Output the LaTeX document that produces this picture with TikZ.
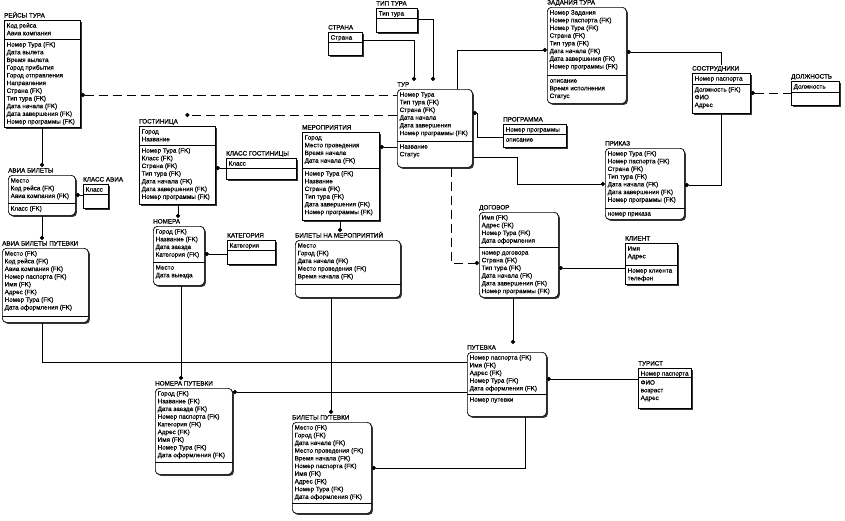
\documentclass[tikz,border=0pt]{standalone}
\usepackage{fontspec}
\setmainfont{Liberation Sans}
\newfontfamily\erfont{Liberation Sans}[FakeBold=0.4]
\usetikzlibrary{arrows.meta, calc, shadows}

% entity: [style]{name}{position}{width}{height}{key part}{title}{keys}{attributes}
\newcommand{\entity}[9][entbox]{%
  \node[#1, minimum width=#4pt, minimum height=#5pt] (#2) at (#3) {};
  \node[enttitle] (#2-title) at ($(#2.north west)+(0,-2.5)$) {#7};
  \draw[idrel] ($(#2.north west)+(0,#6)$) -- ($(#2.north east)+(0,#6)$);
  \node[entattr] at ($(#2.north west)+(2.5,2)$) {\strut #8};
  \node[entattr] at ($(#2.north west)+(2.5,#6+2)$) {\strut #9};
  \coordinate (#2-top) at ($(#2.north)+(0,-8)$);
}

\begin{document}
\begin{tikzpicture}[
    x=1pt, y=-1pt,
    >={Circle[length=4.2pt]},
    entbox/.style={rectangle, draw=black, line width=0.7pt, fill=white, anchor=north west, inner sep=0pt,
      drop shadow={shadow xshift=1.5pt, shadow yshift=-1.5pt, fill=black!80, opacity=1}},
    depbox/.style={entbox, rounded corners=4pt},
    enttitle/.style={anchor=base west, inner sep=0pt, font=\erfont\fontsize{6.3}{7.7}\selectfont},
    entattr/.style={anchor=north west, inner sep=0pt, align=left, font=\erfont\fontsize{6.3}{7.7}\selectfont},
    idrel/.style={line width=0.7pt},
    nonid/.style={line width=0.7pt, dash pattern=on 9pt off 5pt}
]
\path[fill=white, use as bounding box] (0,0) rectangle (845,520);

% --- Left column: flights ---
\entity{reisy}{4,20}{76}{107}{19}{РЕЙСЫ ТУРА}{Код рейса\\Авиа компания}{Номер Тура (FK)\\Дата вылета\\Время вылета\\Город прибытия\\Город отправления\\Направления\\Страна (FK)\\Тип тура (FK)\\Дата начала (FK)\\Дата завершения (FK)\\Номер программы (FK)}
\entity[depbox]{avia}{8,175}{67}{40}{28}{АВИА БИЛЕТЫ}{Место\\Код рейса (FK)\\Авиа компания (FK)}{Класс (FK)}
\entity{klavia}{83,184}{25}{24}{10}{КЛАСС АВИА}{Класс}{}
\entity[depbox]{avput}{2,248}{86}{74}{68}{АВИА БИЛЕТЫ ПУТЕВКИ}{Место (FK)\\Код рейса (FK)\\Авиа компания (FK)\\Номер паспорта (FK)\\Имя (FK)\\Адрес (FK)\\Номер Тура (FK)\\Дата оформления (FK)}{}

% --- Hotels ---
\entity{gost}{139,126}{76}{78}{19}{ГОСТИНИЦА}{Город\\Название}{Номер Тура (FK)\\Класс (FK)\\Страна (FK)\\Тип тура (FK)\\Дата начала (FK)\\Дата завершения (FK)\\Номер программы (FK)}
\entity{klgost}{226,158}{70}{21}{10}{КЛАСС ГОСТИНИЦЫ}{Класс}{}
\entity[depbox]{nomera}{153,226}{51}{59}{36}{НОМЕРА}{Город (FK)\\Название (FK)\\Дата заезда\\Категория (FK)}{Место\\Дата выезда}
\entity{kateg}{227,240}{48}{24}{10}{КАТЕГОРИЯ}{Категория}{}
\entity[depbox]{nomput}{155,388}{77}{86}{74}{НОМЕРА ПУТЕВКИ}{Город (FK)\\Название (FK)\\Дата заезда (FK)\\Номер паспорта (FK)\\Категория (FK)\\Адрес (FK)\\Имя (FK)\\Номер Тура (FK)\\Дата оформления (FK)}{}

% --- Tour ---
\entity{strana}{328,32}{34}{23}{10}{СТРАНА}{Страна}{}
\entity{tiptura}{376,8}{41}{24}{10}{ТИП ТУРА}{Тип тура}{}
\entity[depbox]{tur}{397,89}{75}{78}{52}{ТУР}{Номер Тура\\Тип тура (FK)\\Страна (FK)\\Дата начала\\Дата завершения\\Номер программы (FK)}{Название\\Статус}
\entity{merop}{302,132}{77}{88}{36}{МЕРОПРИЯТИЯ}{Город\\Место проведения\\Время начала\\Дата начала (FK)}{Номер Тура (FK)\\Название\\Страна (FK)\\Тип тура (FK)\\Дата завершения (FK)\\Номер программы (FK)}
\entity[depbox]{bilmer}{295,240}{105}{57}{44}{БИЛЕТЫ НА МЕРОПРИЯТИЙ}{Место\\Город (FK)\\Дата начала (FK)\\Место проведения (FK)\\Время начала (FK)}{}
\entity[depbox]{bilput}{292,422}{79}{91}{81}{БИЛЕТЫ ПУТЕВКИ}{Место (FK)\\Город (FK)\\Дата начала (FK)\\Место проведения (FK)\\Время начала (FK)\\Номер паспорта (FK)\\Имя (FK)\\Адрес (FK)\\Номер Тура (FK)\\Дата оформления (FK)}{}
\entity{prog}{503,124}{63}{23}{10}{ПРОГРАММА}{Номер программы}{описание}

% --- Staff ---
\entity[depbox]{zad}{547,7}{79}{96}{68}{ЗАДАНИЯ ТУРА}{Номер Задания\\Номер паспорта (FK)\\Номер Тура (FK)\\Страна (FK)\\Тип тура (FK)\\Дата начала (FK)\\Дата завершения (FK)\\Номер программы (FK)}{описание\\Время исполнения\\Статус}
\entity{sotr}{692,73}{58}{40}{11}{СОСТРУДНИКИ}{Номер паспорта}{Должность (FK)\\ФИО\\Адрес}
\entity{dolzh}{791,81}{48}{24}{11}{ДОЛЖНОСТЬ}{Должность}{}
\entity[depbox]{prikaz}{605,148}{79}{71}{60}{ПРИКАЗ}{Номер Тура (FK)\\Номер паспорта (FK)\\Страна (FK)\\Тип тура (FK)\\Дата начала (FK)\\Дата завершения (FK)\\Номер программы (FK)}{номер приказа}

% --- Clients ---
\entity[depbox]{dogovor}{479,212}{79}{85}{35}{ДОГОВОР}{Имя (FK)\\Адрес (FK)\\Номер Тура (FK)\\Дата оформления}{номер договора\\Страна (FK)\\Тип тура (FK)\\Дата начала (FK)\\Дата завершения (FK)\\Номер программы (FK)}
\entity{klient}{625,243}{52}{41}{22}{КЛИЕНТ}{Имя\\Адрес}{Номер клиента\\телефон}
\entity[depbox]{putevka}{467,352}{79}{64}{42}{ПУТЕВКА}{Номер паспорта (FK)\\Имя (FK)\\Адрес (FK)\\Номер Тура (FK)\\Дата оформления (FK)}{Номер путевки}
\entity{turist}{638,368}{53}{40}{9}{ТУРИСТ}{Номер паспорта}{ФИО\\возраст\\Адрес}

% --- Relations ---
% flights
\draw[idrel, ->] (42,0 |- reisy.south) -- (42,0 |- avia-top);
\draw[idrel, <-] (avia.east |- 0,195) -- (klavia.west |- 0,195);
\draw[idrel, ->] (42,0 |- avia.south) -- (42,0 |- avput-top);
\draw[idrel] (42,0 |- avput.south) |- (putevka.west |- 0,362);

% tour
\draw[nonid, <-] (reisy.east |- 0,95) -- (tur.west |- 0,95);
\draw[nonid, ->] (tur.west |- 0,115) -- ($(gost.north)+(8,-11)$);
\draw[idrel, <-] (merop.east |- 0,147) -- (tur.west |- 0,147);
\draw[idrel, ->] (strana.east |- 0,40) -| (414,0 |- tur-top);
\draw[idrel, ->] (tiptura.east |- 0,19) -| (433,0 |- tur-top);
\draw[idrel, <-] (tur.east |- 0,113) -| (477,137) -- (prog.west |- 0,137);
\draw[idrel, ->] (457,0 |- tur.north) |- (zad.west |- 0,50);
\draw[idrel, ->] (tur.east |- 0,157) -| (517,184) -- (prikaz.west |- 0,184);
\draw[nonid, ->] (451,0 |- tur.south) |- (dogovor.west |- 0,263);

% staff
\draw[idrel, <-] (zad.east |- 0,52) -| (sotr-top);
\draw[nonid, <-] (sotr.east |- 0,93) -- (dolzh.west |- 0,93);
\draw[idrel, ->] (sotr.south) |- (prikaz.east |- 0,185);

% clients
\draw[idrel, <-] (dogovor.east |- 0,268) -- (klient.west |- 0,268);
\draw[idrel, ->] (513,0 |- dogovor.south) -- (513,0 |- putevka-top);
\draw[idrel, <-] (putevka.east |- 0,379) -- (turist.west |- 0,379);
\draw[idrel, <-] (nomput.east |- 0,392) -- (putevka.west |- 0,392);
\draw[idrel, <-] (bilput.east |- 0,468) -| (525,0 |- putevka.south);

% hotels and events
\draw[idrel, <-] (gost.east |- 0,168) -- (klgost.west |- 0,168);
\draw[idrel, ->] (178,0 |- gost.south) -- (178,0 |- nomera-top);
\draw[idrel, <-] (nomera.east |- 0,254) -- (kateg.west |- 0,254);
\draw[idrel, ->] (181,0 |- nomera.south) -- (181,0 |- nomput-top);
\draw[idrel, ->] (340,0 |- merop.south) -- (340,0 |- bilmer-top);
\draw[idrel, ->] (331,0 |- bilmer.south) -- (331,0 |- bilput-top);

\end{tikzpicture}
\end{document}
